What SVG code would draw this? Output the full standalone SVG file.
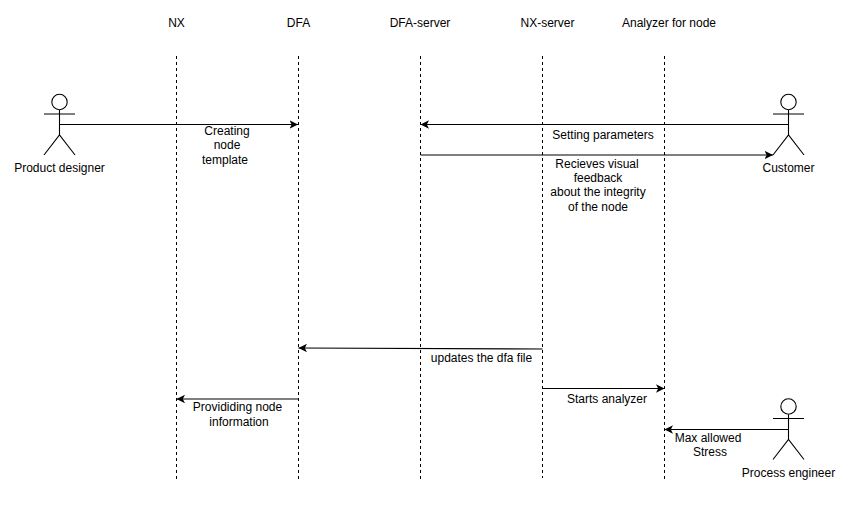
<svg xmlns="http://www.w3.org/2000/svg" width="861" height="517" viewBox="0 0 861 517">
<style>
text{font-family:"Liberation Sans",Arial,sans-serif;font-size:12px;fill:#000;text-anchor:middle}
.life{stroke:#000;stroke-width:1;stroke-dasharray:3 3;fill:none}
.conn{stroke:#000;stroke-width:1.2;fill:none;marker-end:url(#arrow)}
.head{stroke:#000;stroke-width:1.1;fill:#fff}
.limbs{stroke:#000;stroke-width:1.1;fill:none}
</style>
<defs>
<marker id="arrow" markerUnits="userSpaceOnUse" markerWidth="10" markerHeight="10" refX="8.500" refY="5" orient="auto"><path d="M0 0.800L8.500 5L0 9.200L2.200 5Z" fill="#000"/></marker>
<g id="stick"><circle cx="0" cy="8" r="7.700" class="head"/><path d="M0 16V41M-15.500 20H15.500M-15.500 61L0 41L15.500 61" class="limbs"/></g>
</defs>
<g id="lifeline-nx"><path class="life" d="M176.500 56V481"/><text x="176.500" y="27">NX</text></g>
<g id="lifeline-dfa"><path class="life" d="M298.500 56V481"/><text x="298.500" y="27">DFA</text></g>
<g id="lifeline-dfa-server"><path class="life" d="M420.500 56V481"/><text x="420" y="27">DFA-server</text></g>
<g id="lifeline-nx-server"><path class="life" d="M542.500 56V478"/><text x="547.500" y="27">NX-server</text></g>
<g id="lifeline-analyzer"><path class="life" d="M664.500 56V481"/><text x="669" y="27">Analyzer for node</text></g>
<g id="actor-product-designer"><use href="#stick" x="59.500" y="94"/><text x="59.500" y="172">Product designer</text></g>
<g id="actor-customer"><use href="#stick" x="788.500" y="94"/><text x="788.500" y="172">Customer</text></g>
<g id="actor-process-engineer"><use href="#stick" x="788.500" y="398.500"/><text x="788.500" y="477">Process engineer</text></g>
<g id="connectors">
<path class="conn" d="M59.500 124.500H298"/>
<path class="conn" d="M788.500 124.500H420.500"/>
<path class="conn" d="M420.500 155H773"/>
<path class="conn" d="M542.500 349L298.500 348"/>
<path class="conn" d="M542.500 388.500H664.500"/>
<path class="conn" d="M298.500 399H176.500"/>
<path class="conn" d="M788.500 429.500H664.500"/>
</g>
<g id="labels">
<text x="227" y="135">Creating</text><text x="227" y="149">node</text><text x="225" y="164">template</text>
<text x="603" y="139">Setting parameters</text>
<text x="597" y="168">Recieves visual</text><text x="598" y="182">feedback</text><text x="598" y="196">about the integrity</text><text x="598" y="211">of the node</text>
<text x="481.500" y="362">updates the dfa file</text>
<text x="607" y="403">Starts analyzer</text>
<text x="237.500" y="411">Provididing node</text><text x="239" y="426">information</text>
<text x="708" y="442">Max allowed</text><text x="710" y="456">Stress</text>
</g>
</svg>
